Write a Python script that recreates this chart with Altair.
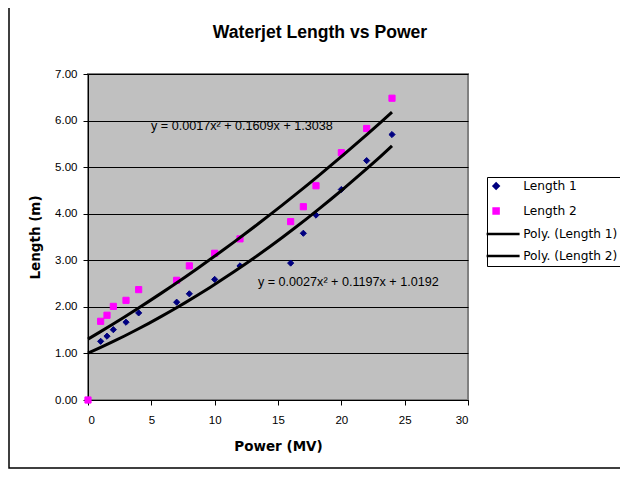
import altair as alt
import pandas as pd

# ---- data ----
power = [0, 1, 1.5, 2, 3, 4, 7, 8, 10, 12, 16, 17, 18, 20, 22, 24]
length1 = [0, 1.26, 1.37, 1.51, 1.67, 1.87, 2.10, 2.28, 2.59, 2.88, 2.94, 3.58, 3.97, 4.52, 5.14, 5.70]
length2 = [0, 1.69, 1.82, 2.01, 2.14, 2.37, 2.57, 2.88, 3.15, 3.46, 3.83, 4.15, 4.60, 5.31, 5.83, 6.48]

series_names = ["Length 1", "Length 2"]
legend_names = ["Length 1", "Length 2", "Poly. (Length 1)", "Poly. (Length 2)"]
legend_colors = ["#000080", "#FF00FF", "#000000", "#000000"]
line_path = "M-3.8,0H9.4"
legend_shapes = ["diamond", "square", line_path, line_path]

eq_text = ["y = 0.0017x² + 0.1609x + 1.3038", "y = 0.0027x² + 0.1197x + 1.0192"]
eq_x = [12.15, 20.55]
eq_y = [5.89, 2.53]

title_text = ["Waterjet Length vs Power"]

x_ticks = [0, 5, 10, 15, 20, 25, 30]
y_ticks = [0, 1, 2, 3, 4, 5, 6, 7]

FONT = "Liberation Sans"
WIDE = "DejaVu Sans"

rows = []
for name, vals in zip(series_names, [length1, length2]):
    for p, v in zip(power, vals):
        rows.append({"x": p, "y": v, "series": name})
df = pd.DataFrame(rows)
eq_df = pd.DataFrame({"x": eq_x, "y": eq_y, "label": eq_text})

x_enc = alt.X("x:Q", scale=alt.Scale(domain=[0, 30], nice=False),
              axis=alt.Axis(values=x_ticks, title="Power (MV)", grid=False, format="d",
                            labelPadding=9, titlePadding=14))
y_enc = alt.Y("y:Q", scale=alt.Scale(domain=[0, 7], nice=False),
              axis=alt.Axis(values=y_ticks, format=".2f", title="Length (m)", grid=True,
                            labelPadding=6, titlePadding=12))

legend = alt.Legend(title=None, orient="none", legendX=399, legendY=103,
                    strokeColor="black", fillColor="white", padding=3,
                    labelFont=WIDE, labelFontSize=12.2, labelColor="black",
                    symbolSize=25, symbolStrokeWidth=2.5, rowPadding=9,
                    labelOffset=21, labelLimit=200)

color_scale = alt.Scale(domain=legend_names, range=legend_colors)
shape_scale = alt.Scale(domain=legend_names, range=legend_shapes)

points = alt.Chart(df).mark_point(filled=True, size=38, opacity=1, strokeWidth=1).encode(
    x=x_enc, y=y_enc,
    fill=alt.Fill("series:N", scale=color_scale, legend=legend),
    stroke=alt.Stroke("series:N", scale=color_scale, legend=legend),
    shape=alt.Shape("series:N", scale=shape_scale, legend=legend),
)

fits = alt.Chart(df).transform_regression(
    "x", "y", method="poly", order=2, groupby=["series"]
).transform_calculate(
    series="'Poly. (' + datum.series + ')'"
).mark_line(strokeWidth=3).encode(
    x=x_enc, y=y_enc,
    stroke=alt.Stroke("series:N", scale=color_scale, legend=legend),
)

eqs = alt.Chart(eq_df).mark_text(font=FONT, fontSize=12.6, color="black").encode(
    x=alt.X("x:Q"), y=alt.Y("y:Q"), text="label:N"
)

title = alt.Chart(alt.Data(values=[{"t": t} for t in title_text])).mark_text(
    font=FONT, fontSize=17.6, fontWeight="bold", color="black", baseline="middle", align="center"
).encode(
    x=alt.value(232), y=alt.value(-41), text="t:N"
)

frame = alt.Chart(alt.Data(values=[{"a": 1}])).mark_rect(
    fillOpacity=0, stroke="black", strokeWidth=1.5
).encode(
    x=alt.value(-79), x2=alt.value(700), y=alt.value(-100), y2=alt.value(394)
)

chart = alt.layer(frame, title, points, fits, eqs).properties(
    width=380, height=326,
    autosize=alt.AutoSizeParams(type="none"),
    padding={"left": 80, "top": 66, "right": 152, "bottom": 69},
).configure_view(
    fill="#C0C0C0", stroke="#808080", strokeWidth=2
).configure_axis(
    labelFont=FONT, labelFontSize=11.5, labelColor="black",
    titleFont=WIDE, titleFontSize=13.5, titleFontWeight="bold", titleColor="black",
    domainColor="black", tickColor="black", tickSize=5, gridColor="black",
    gridWidth=1
)

chart.save("out.html", embed_options={"renderer": "svg", "actions": False})
